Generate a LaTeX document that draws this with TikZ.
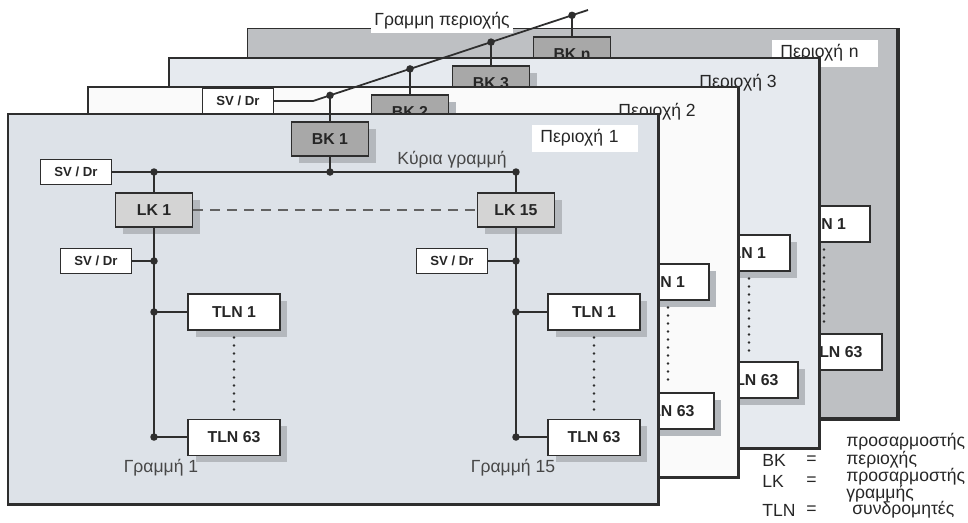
\documentclass[tikz,border=0pt]{standalone}
\usepackage{fontspec}
\setmainfont{Liberation Sans}
\usetikzlibrary{positioning, shadows}
\definecolor{wirecol}{HTML}{2E2E2E}
\definecolor{areaOne}{HTML}{DDE2E8}
\definecolor{areaTwo}{HTML}{FAFAFA}
\definecolor{areaThree}{HTML}{E6EAEF}
\definecolor{areaFour}{HTML}{BEC0C3}
\definecolor{bkgray}{HTML}{A8A8A8}
\definecolor{lkgray}{HTML}{D4D4D4}
\definecolor{shadowgray}{HTML}{B4B8BD}
\definecolor{textgray}{HTML}{262626}
\tikzset{
  box/.style={rectangle, draw=wirecol, line width=0.6pt, inner sep=0pt,
    text=textgray, font=\fontsize{9}{10}\selectfont\bfseries},
  tln/.style={box, fill=white, minimum width=1.84cm, minimum height=0.72cm},
  bk/.style={box, fill=bkgray, minimum width=1.54cm, minimum height=0.68cm},
  lk/.style={box, fill=lkgray, minimum width=1.54cm, minimum height=0.68cm},
  svdr/.style={box, fill=white, minimum width=1.42cm, minimum height=0.5cm,
    font=\fontsize{7.5}{9}\selectfont\bfseries},
  boxshadow/.style={drop shadow={shadow xshift=0.15cm, shadow yshift=-0.13cm,
    fill=shadowgray, opacity=1}},
  area/.style={rectangle, draw=wirecol, line width=0.7pt,
    minimum width=13cm, minimum height=7.8cm, inner sep=0pt},
  areaedge/.style={draw=wirecol, line width=2pt},
  arealabel/.style={font=\fontsize{10}{12}\selectfont, text=textgray, inner sep=0pt},
  labelbox/.style={arealabel, fill=white, anchor=west, text width=1.8cm,
    inner xsep=0.16cm, minimum height=0.54cm, align=left},
  caption/.style={font=\fontsize{10}{12}\selectfont, text=textgray!85},
  wire/.style={draw=wirecol, line width=1pt},
  dashline/.style={draw=wirecol!75, line width=1pt, dash pattern=on 0.2cm off 0.14cm},
  dotline/.style={draw=wirecol, line width=1.5pt, line cap=round,
    dash pattern=on 0pt off 0.16cm, shorten <=4pt, shorten >=4pt},
  legend/.style={font=\fontsize{10}{12}\selectfont, text=textgray, anchor=west, inner sep=0pt},
}
\begin{document}
\begin{tikzpicture}[x=0.02cm, y=-0.02cm]
  \useasboundingbox (0,0) rectangle (968,522);

  % area n (back)
  \node (areaN) [area, fill=areaFour] at (572.5,223.5) {};
  \draw[areaedge] (areaN.south west) -- (areaN.south east) -- (areaN.north east);
  \node (labN) [labelbox] at (772,53) {Περιοχή n};
  \node (bkN) [bk] at (572,54) {BK n};
  \node (tlnN1) [tln] at (824,224) {TLN 1};
  \node (tlnN2) [tln] at (836,352) {TLN 63};
  \draw[dotline] (tlnN1.south) -- (tlnN1.south |- tlnN2.north);

  % area 3
  \node (areaC) [area, fill=areaThree] at (494,253) {};
  \draw[areaedge] (areaC.south west) -- (areaC.south east) -- (areaC.north east);
  \node (labC) [arealabel] at (738,83) {Περιοχή 3};
  \node (bkC) [bk, boxshadow] at (491,83) {BK 3};
  \node (tlnC1) [tln, boxshadow] at (744,253) {TLN 1};
  \node (tlnC2) [tln, boxshadow] at (752,380) {TLN 63};
  \draw[dotline] (tlnC1.south -| 749,0) -- (tlnC2.north -| 749,0);

  % area 2
  \node (areaB) [area, fill=areaTwo] at (413,282) {};
  \draw[areaedge] (areaB.south west) -- (areaB.south east) -- (areaB.north east);
  \node (labB) [arealabel] at (657,112) {Περιοχή 2};
  \node (bkB) [bk, boxshadow] at (410,112) {BK 2};
  \node (tlnB1) [tln, boxshadow] at (663,282) {TLN 1};
  \node (tlnB2) [tln, boxshadow] at (668,411) {TLN 63};
  \draw[dotline] (tlnB1.south -| 668,0) -- (tlnB2.north -| 668,0);

  % area 1 (front)
  \node (areaA) [area, fill=areaOne] at (333,309) {};
  \draw[areaedge] (areaA.south west) -- (areaA.south east) -- (areaA.north east);
  \node (labA) [labelbox] at (532,138) {Περιοχή 1};
  \node (bkA) [bk, boxshadow] at (330,139) {BK 1};
  \node (svA) [svdr] at (76,172) {SV / Dr};
  \node (lkA) [lk, boxshadow] at (154,210) {LK 1};
  \node (lkO) [lk, boxshadow, right=5.68cm of lkA] {LK 15};
  \node (svB) [svdr] at (96,261) {SV / Dr};
  \node (svC) [svdr] at (452,261) {SV / Dr};
  \node (tlnA) [tln, boxshadow] at (234,312) {TLN 1};
  \node (tlnB) [tln, boxshadow, below=1.76cm of tlnA] {TLN 63};
  \node (tlnC) [tln, boxshadow] at (594,312) {TLN 1};
  \node (tlnD) [tln, boxshadow, below=1.76cm of tlnC] {TLN 63};
  \node (mainLbl) [caption] at (452,160) {Κύρια γραμμή};
  \node (lineA) [caption] at (161,468) {Γραμμή 1};
  \node (lineO) [caption] at (513,468) {Γραμμή 15};

  \coordinate (jA) at (lkA |- svA);
  \coordinate (jB) at (bkA |- svA);
  \coordinate (jC) at (lkO |- svA);
  \coordinate (jD) at (lkA |- svB);
  \coordinate (jE) at (lkA |- tlnA);
  \coordinate (jF) at (lkA |- tlnB);
  \coordinate (jG) at (lkO |- svC);
  \coordinate (jH) at (lkO |- tlnC);
  \coordinate (jI) at (lkO |- tlnD);

  \draw[wire] (svA) -- (jC) -- (lkO);
  \draw[wire] (jA) -- (lkA);
  \draw[wire] (bkA) -- (jB);
  \draw[wire] (lkA) -- (jF) -- (tlnB);
  \draw[wire] (svB) -- (jD);
  \draw[wire] (jE) -- (tlnA);
  \draw[wire] (lkO) -- (jI) -- (tlnD);
  \draw[wire] (svC) -- (jG);
  \draw[wire] (jH) -- (tlnC);
  \draw[dashline] (lkA) -- (lkO);
  \draw[dotline] (tlnA) -- (tlnB);
  \draw[dotline] (tlnC) -- (tlnD);
  \foreach \j in {jA,jB,jC,jD,jE,jF,jG,jH,jI}
    \fill[wirecol] (\j) circle (0.075cm);

  % area line across the areas
  \node (svT) [svdr] at (238,101) {SV / Dr};
  \coordinate (bend) at ([xshift=0.78cm]svT.east);
  \coordinate (lineEnd) at (588,10);
  \draw[wire] (svT) -- (bend) -- (lineEnd);
  \foreach \b in {bkA,bkB,bkC,bkN} {
    \coordinate (t\b) at (intersection of bend--lineEnd and \b.south--\b.north);
    \draw[wire] (t\b) -- (\b);
    \fill[wirecol] (t\b) circle (0.075cm);
  }
  \node (topLbl) [arealabel, fill=white, inner sep=2pt] at (442,21) {Γραμμη περιοχής};

  % legend
  \node (lgTop) [legend] at (846,442) {προσαρμοστής};
  \node (lgBK) [legend] at (762,460) {BK};
  \node (eqBK) [legend] at (806,460) {=};
  \node (lgBKt) [legend] at (846,460) {περιοχής};
  \node (lgLK) [legend] at (762,481) {LK};
  \node (eqLK) [legend] at (806,481) {=};
  \node (lgLKt) [legend] at (846,477) {προσαρμοστής};
  \node (lgLKu) [legend] at (846,494) {γραμμής};
  \node (lgTLN) [legend] at (762,510) {TLN};
  \node (eqTLN) [legend] at (806,510) {=};
  \node (lgTLNt) [legend] at (852,510) {συνδρομητές};
\end{tikzpicture}
\end{document}
